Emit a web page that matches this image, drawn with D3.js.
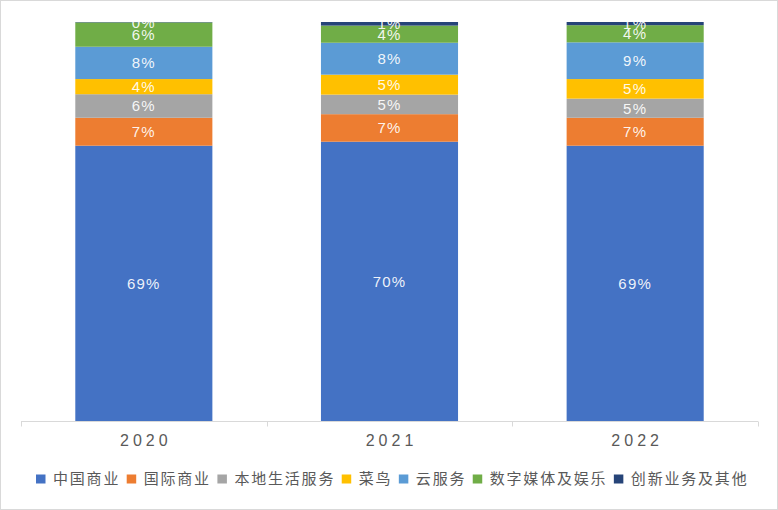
<!DOCTYPE html>
<html>
<head>
<meta charset="utf-8">
<script src="https://cdn.jsdelivr.net/npm/d3@7"></script>
<style>
html,body{margin:0;padding:0;background:#fff;}
svg{display:block;font-family:"Liberation Sans","Noto Sans CJK SC",Arial,sans-serif;}
</style>
</head>
<body>
<svg id="chart" width="778" height="510"></svg>
<script>
const years = ["2020", "2021", "2022"];
const seriesNames = ["中国商业", "国际商业", "本地生活服务", "菜鸟", "云服务", "数字媒体及娱乐", "创新业务及其他"];
const chinaCommerce = [69.0, 70.0, 69.0];
const intlCommerce = [7.0, 6.9, 7.0];
const localServices = [5.9, 4.9, 4.8];
const cainiao = [3.8, 5.0, 4.9];
const cloud = [8.1, 8.0, 9.2];
const digitalMedia = [6.1, 4.3, 4.3];
const innovation = [0.1, 0.9, 0.8];
const colors = ["#4472C4", "#ED7D31", "#A5A5A5", "#FFC000", "#5B9BD5", "#70AD47", "#264478"];

const seriesValues = [chinaCommerce, intlCommerce, localServices, cainiao, cloud, digitalMedia, innovation];
const table = years.map((y, i) => {
  const row = {year: y};
  seriesNames.forEach((s, j) => row[s] = seriesValues[j][i]);
  return row;
});
const stacked = d3.stack().keys(seriesNames)(table);

const svg = d3.select("#chart");
svg.append("rect").attr("x", 0.5).attr("y", 0.5).attr("width", 777).attr("height", 509)
  .attr("fill", "#fff").attr("stroke", "#d9d9d9").attr("stroke-width", 1);

const x = d3.scaleBand().domain(years).range([21, 758]).paddingInner(0.442).paddingOuter(0.221);
const y = d3.scaleLinear().domain([0, 100]).range([421, 22]);
const color = d3.scaleOrdinal().domain(seriesNames).range(colors);

const defs = svg.append("defs");
defs.append("clipPath").attr("id", "plotclip").append("rect")
  .attr("x", 0).attr("y", 22).attr("width", 778).attr("height", 420);

const layers = svg.append("g").selectAll("g").data(stacked).join("g")
  .attr("fill", d => color(d.key));
layers.selectAll("rect").data(d => d).join("rect")
  .attr("x", d => x(d.data.year))
  .attr("width", x.bandwidth())
  .attr("y", d => y(d[1]))
  .attr("height", d => y(d[0]) - y(d[1]));

const labels = svg.append("g").attr("clip-path", "url(#plotclip)");
stacked.forEach(layer => {
  labels.selectAll(null).data(layer).join("text")
    .attr("x", d => x(d.data.year) + x.bandwidth() / 2)
    .attr("y", d => (y(d[0]) + y(d[1])) / 2)
    .attr("dy", "0.36em")
    .attr("text-anchor", "middle")
    .attr("font-size", 15)
    .attr("letter-spacing", 1.2)
    .attr("fill", "rgba(255,255,255,0.92)")
    .text(d => Math.round(d[1] - d[0]) + "%");
});

// x axis
const axisG = svg.append("g").attr("transform", "translate(0,421.5)");
const x0 = x.range()[0];
axisG.append("line").attr("x1", x0).attr("x2", x.range()[1]).attr("y1", 0).attr("y2", 0)
  .attr("stroke", "#d9d9d9").attr("stroke-width", 1);
d3.range(years.length + 1).forEach(i => {
  const tx = Math.round(x0 + i * (x.range()[1] - x0) / years.length) + 0.5;
  axisG.append("line").attr("x1", tx).attr("x2", tx).attr("y1", 0).attr("y2", 5)
    .attr("stroke", "#d9d9d9").attr("stroke-width", 1);
});
axisG.selectAll("text.yr").data(years).join("text")
  .attr("class", "yr")
  .attr("x", d => x(d) + x.bandwidth() / 2 + 2)
  .attr("y", 24.5)
  .attr("text-anchor", "middle")
  .attr("font-size", 16)
  .attr("letter-spacing", 4)
  .attr("fill", "#595959")
  .text(d => d);

// legend
const legend = svg.append("g").attr("transform", "translate(36,479)");
let lx = 0;
seriesNames.forEach((name, i) => {
  const g = legend.append("g").attr("transform", `translate(${lx},0)`);
  g.append("rect").attr("x", 0).attr("y", -4.5).attr("width", 9.5).attr("height", 9)
    .attr("fill", colors[i]);
  const t = g.append("text").attr("x", 17).attr("y", 0).attr("dy", "0.36em")
    .attr("font-size", 15).attr("letter-spacing", 1.8).attr("fill", "#595959").text(name);
  const w = t.node().getComputedTextLength();
  lx += 17 + w + 6.5;
});
</script>
</body>
</html>
